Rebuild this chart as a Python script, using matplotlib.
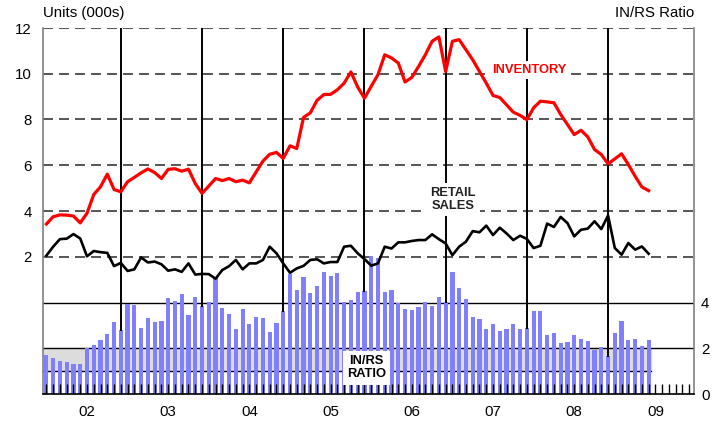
import numpy as np
import matplotlib
matplotlib.use("Agg")
import matplotlib.pyplot as plt

plt.rcParams['font.family'] = ['Liberation Sans', 'DejaVu Sans']

# monthly data, Jan 2002 .. Jun 2009
inventory = [3.43, 3.75, 3.83, 3.82, 3.78, 3.48, 3.90, 4.72, 5.06, 5.61, 4.94, 4.84,
             5.28, 5.47, 5.67, 5.84, 5.68, 5.42, 5.82, 5.85, 5.74, 5.83, 5.20, 4.77,
             5.09, 5.42, 5.33, 5.42, 5.28, 5.35, 5.23, 5.71, 6.18, 6.48, 6.56, 6.30,
             6.85, 6.73, 8.09, 8.29, 8.84, 9.09, 9.10, 9.30, 9.59, 10.08, 9.42, 8.93,
             9.45, 9.96, 10.83, 10.69, 10.47, 9.64, 9.84, 10.32, 10.83, 11.42, 11.61, 10.10,
             11.42, 11.49, 11.05, 10.61, 10.10, 9.59, 9.05, 8.96, 8.64, 8.32, 8.18, 7.99,
             8.51, 8.80, 8.77, 8.73, 8.22, 7.78, 7.34, 7.53, 7.24, 6.69, 6.47, 6.06,
             6.28, 6.50, 6.03, 5.52, 5.05, 4.89]

retail = [2.05, 2.44, 2.77, 2.79, 2.99, 2.80, 2.02, 2.25, 2.20, 2.17, 1.59, 1.73,
          1.38, 1.45, 1.97, 1.75, 1.79, 1.67, 1.39, 1.45, 1.34, 1.71, 1.22, 1.25,
          1.24, 1.04, 1.42, 1.59, 1.86, 1.45, 1.71, 1.71, 1.86, 2.44, 2.15, 1.71,
          1.30, 1.49, 1.60, 1.86, 1.89, 1.71, 1.77, 1.77, 2.44, 2.48, 2.15, 1.90,
          1.61, 1.71, 2.44, 2.36, 2.63, 2.63, 2.69, 2.73, 2.73, 2.98, 2.77, 2.58,
          2.07, 2.44, 2.66, 3.12, 3.07, 3.36, 2.95, 3.27, 3.02, 2.73, 2.92, 2.78,
          2.38, 2.48, 3.45, 3.30, 3.74, 3.47, 2.89, 3.18, 3.23, 3.55, 3.21, 3.80,
          2.38, 2.09, 2.60, 2.31, 2.45, 2.13]

ratio = [1.70, 1.58, 1.43, 1.42, 1.33, 1.29, 2.01, 2.16, 2.38, 2.61, 3.14, 2.81,
         3.94, 3.87, 2.90, 3.32, 3.14, 3.20, 4.20, 4.07, 4.35, 3.45, 4.26, 3.86,
         4.01, 5.10, 3.75, 3.51, 2.86, 3.72, 3.04, 3.36, 3.33, 2.71, 3.10, 3.65,
         5.25, 4.55, 5.10, 4.41, 4.70, 5.32, 5.16, 5.27, 4.01, 4.09, 4.45, 4.52,
         6.05, 5.94, 4.45, 4.55, 3.96, 3.72, 3.68, 3.80, 4.01, 3.84, 4.23, 4.01,
         5.32, 4.64, 4.16, 3.36, 3.29, 2.86, 3.07, 2.75, 2.86, 3.07, 2.84, 2.90,
         3.61, 3.61, 2.57, 2.68, 2.25, 2.28, 2.59, 2.42, 2.30, 1.94, 2.06, 1.65,
         2.67, 3.19, 2.35, 2.42, 2.10, 2.35]

year_labels = ['02', '03', '04', '05', '06', '07', '08', '09']
left_ticks = [2, 4, 6, 8, 10, 12]
right_ticks = [0, 2, 4]

OFFSET = 4  # ratio axis sits 4 units below the units axis
n_months = 96
months = np.arange(len(inventory))
ratio_y = np.array(ratio) - OFFSET

fig = plt.figure(figsize=(7.19, 4.23), dpi=100)
ax = fig.add_axes([43 / 719, 1 - 394 / 423, 651 / 719, 366 / 423])
ax.set_xlim(-0.5, 95.7)
ax.set_ylim(-OFFSET, 12)

# gray band and reference lines on the ratio scale
last = len(ratio) - 0.6
ax.fill_between([-0.5, last], 1 - OFFSET, 2 - OFFSET, color='#dcdcdc', zorder=0)
ax.plot([-0.5, last], [1 - OFFSET, 1 - OFFSET], color='black', lw=1.0, zorder=0.5)
ax.axhline(2 - OFFSET, color='black', lw=1.0, zorder=0.5)
ax.axhline(0, color='black', lw=1.0, zorder=0.5)
for v in left_ticks:
    ax.axhline(v, color='#3a3a3a', lw=1.2, ls=(0, (6, 3.6)), zorder=0.6)

# ratio bars
ax.bar(months, ratio_y + OFFSET, bottom=-OFFSET, width=0.62,
       color='#8080ff', zorder=1)

# december markers from top down to the bar
for m in range(11, len(ratio), 12):
    ax.plot([m, m], [12, ratio_y[m]], color='black', lw=1.4, zorder=2)

ax.plot(months, retail, color='black', lw=1.9, zorder=3)
ax.plot(months, inventory, color='#ff0000', lw=2.3, zorder=3)

# labels on the chart
ax.text(71.4, 10.15, 'INVENTORY', color='#ff0000', fontsize=9.3, fontweight='bold',
        ha='center', va='center', zorder=4,
        bbox=dict(facecolor='white', edgecolor='none', pad=2))
ax.text(60.1, 4.5, 'RETAIL\nSALES', color='#222222', fontsize=9.3, fontweight='bold',
        ha='center', va='center', linespacing=1.1, zorder=4,
        bbox=dict(facecolor='white', edgecolor='none', pad=3))
ax.text(47.3, -2.85, 'IN/RS\nRATIO', color='black', fontsize=9.3, fontweight='bold',
        ha='center', va='center', linespacing=1.15, zorder=4,
        bbox=dict(facecolor='white', edgecolor='none', pad=3))

# axes styling
ax.spines['top'].set_visible(False)
ax.spines['left'].set_color('#808080')
ax.spines['right'].set_color('#808080')
ax.spines['left'].set_linewidth(1.2)
ax.spines['right'].set_linewidth(1.2)
ax.spines['bottom'].set_linewidth(1.2)

ax.set_yticks(left_ticks)
ax.set_yticklabels([str(v) for v in left_ticks])
ax.tick_params(axis='y', length=0, pad=8, labelsize=10.8)

ax_r = ax.twinx()
ax_r.set_ylim(ax.get_ylim())
ax_r.set_yticks([v - OFFSET for v in right_ticks])
ax_r.set_yticklabels([str(v) for v in right_ticks])
ax_r.tick_params(axis='y', length=0, pad=5, labelsize=10.8)
for side in ['top', 'left', 'right', 'bottom']:
    ax_r.spines[side].set_visible(False)

year_pos = [6 + 12 * k for k in range(len(year_labels))]
ax.set_xticks(year_pos)
ax.set_xticklabels(year_labels)
ax.set_xticks([m for m in range(n_months) if m not in year_pos], minor=True)
ax.tick_params(axis='x', which='both', direction='in', length=7, width=1.0,
               color='black', labelsize=10.8, pad=8)

fig.text(43 / 719, 1 - 13 / 423, 'Units (000s)', fontsize=10.8, ha='left', va='center')
fig.text(694 / 719, 1 - 13 / 423, 'IN/RS Ratio', fontsize=10.8, ha='right', va='center')

fig.savefig('out.png', dpi=100)
